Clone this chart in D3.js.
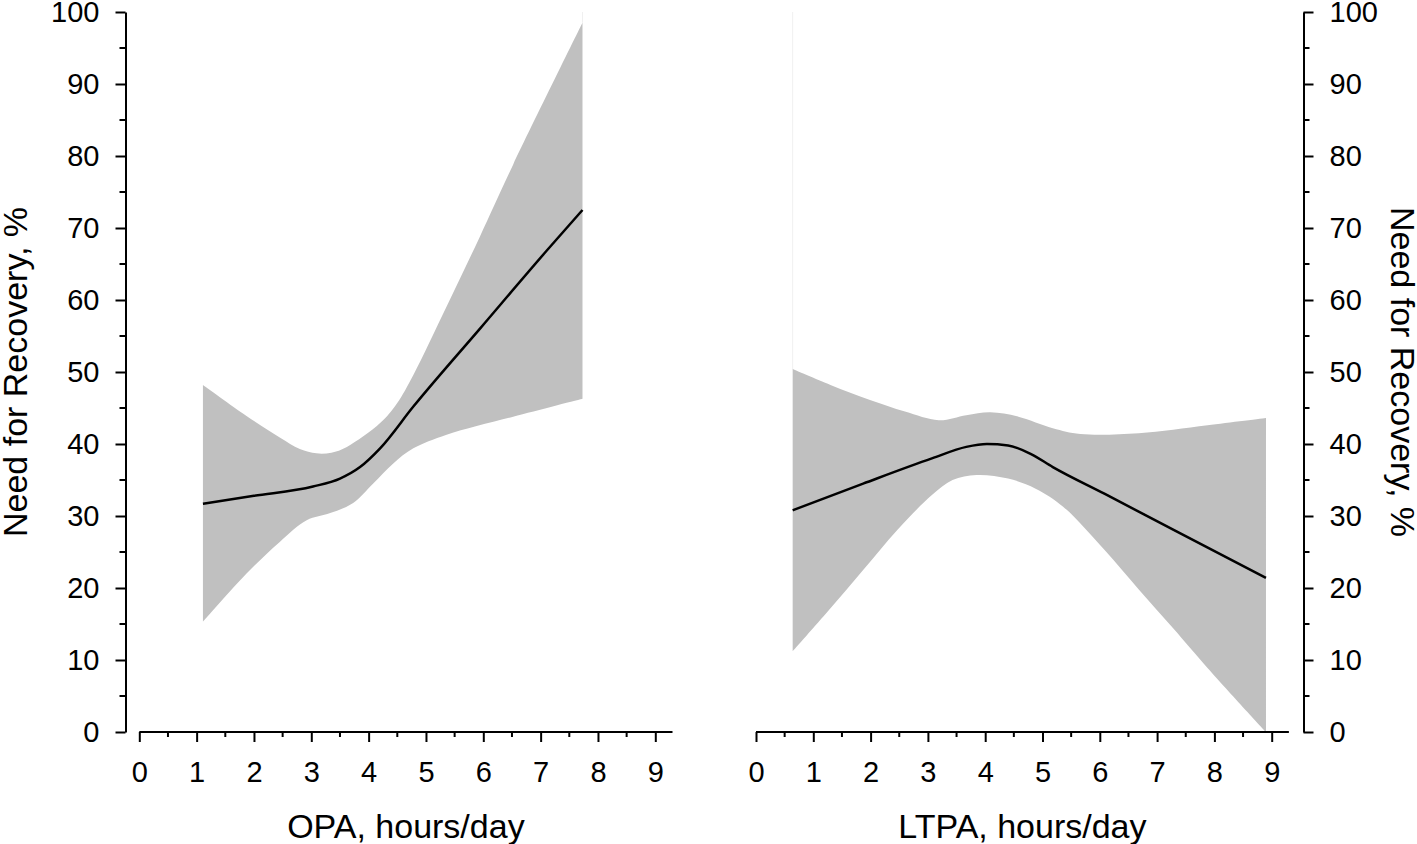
<!DOCTYPE html>
<html>
<head>
<meta charset="utf-8">
<script src="https://cdn.jsdelivr.net/npm/d3@7"></script>
<style>
  html, body { margin: 0; padding: 0; background: #fff; }
  svg { display: block; font-family: "Liberation Sans", Arial, sans-serif; }
</style>
</head>
<body>
<svg id="chart" width="1417" height="844"></svg>
<script>
// ---------- data ----------
const xTicks = [0, 1, 2, 3, 4, 5, 6, 7, 8, 9];
const yTicks = [0, 10, 20, 30, 40, 50, 60, 70, 80, 90, 100];
const leftXLabel = "OPA, hours/day";
const rightXLabel = "LTPA, hours/day";
const yLabel = "Need for Recovery, %";

// OPA panel: fitted curve and 95% band (x in hours/day, y in %)
const opaFit = [[1.11,31.7],[2.0,32.8],[3.03,34.1],[3.5,35.2],[3.85,36.8],[4.2,39.4],[4.78,45.2],[5.95,56.1],[7.1,66.8],[7.73,72.5]];
const opaUpper = [[1.11,48.2],[1.87,43.9],[2.45,40.9],[2.8,39.3],[3.09,38.7],[3.35,38.8],[3.62,39.6],[4.2,42.9],[4.49,45.6],[4.78,49.6],[5.36,59.1],[5.94,68.8],[6.52,78.8],[7.73,98.5]];
const opaLower = [[1.11,15.3],[1.87,22.0],[2.45,26.4],[2.92,29.4],[3.33,30.4],[3.73,31.8],[4.08,34.5],[4.43,37.3],[4.78,39.4],[5.36,41.3],[6.52,43.8],[7.73,46.3]];

// LTPA panel
const ltpaFit = [[0.64,30.8],[1.87,34.5],[3.07,38.0],[3.67,39.6],[4.03,40.0],[4.4,39.8],[4.8,38.6],[5.18,36.8],[6.08,33.1],[7.28,28.1],[8.9,21.4]];
const ltpaUpper = [[0.64,50.4],[1.3,48.2],[1.99,46.1],[2.6,44.5],[3.19,43.3],[3.67,44.0],[4.09,44.4],[4.58,43.8],[5.18,42.2],[5.66,41.4],[6.68,41.5],[7.88,42.6],[8.9,43.6]];
const ltpaLower = [[0.64,11.2],[1.27,16.9],[1.87,22.5],[2.47,28.1],[3.07,32.9],[3.43,35.0],[3.85,35.7],[4.40,35.2],[4.88,33.8],[5.36,31.3],[6.08,25.3],[6.68,19.8],[7.28,14.4],[7.88,8.9],[8.9,0.0]];

// ---------- layout ----------
const svg = d3.select("#chart");
const FONT_TICK = 29, FONT_TITLE = 34;
const y = d3.scaleLinear().domain([0, 100]).range([732, 12]);
const xL = d3.scaleLinear().domain([0, 9]).range([139.3, 655.3]);
const xR = d3.scaleLinear().domain([0, 9]).range([756, 1271.7]);
const yAxisLeftX = 125.5, yAxisRightX = 1303.5;
const axisEndX = 9.3;

function drawPanel(x, fit, upper, lower) {
  const g = svg.append("g");
  const bandLine = d3.line().x(d => x(d[0])).y(d => y(d[1])).curve(d3.curveCatmullRom.alpha(0.5));
  const fitLine = d3.line().x(d => x(d[0])).y(d => y(d[1])).curve(d3.curveMonotoneX);
  const up = bandLine(upper);
  const lo = bandLine(lower.slice().reverse()).replace(/^M/, "L");
  g.append("path").attr("d", up + lo + "Z").attr("fill", "#c0c0c0").attr("stroke", "none");
  g.append("path").attr("d", fitLine(fit)).attr("fill", "none").attr("stroke", "#000").attr("stroke-width", 2.5);

  // x axis
  const minor = d3.range(0, 9.01, 0.5).filter(v => v % 1 !== 0);
  g.append("line").attr("x1", x(0)).attr("x2", x(axisEndX)).attr("y1", y(0)).attr("y2", y(0))
    .attr("stroke", "#000").attr("stroke-width", 2);
  const ax = g.append("g").attr("transform", `translate(0,${y(0)})`)
    .call(d3.axisBottom(x).tickValues(xTicks).tickSize(10).tickPadding(19).tickFormat(d3.format("d")));
  ax.select(".domain").remove();
  ax.selectAll(".tick line").attr("stroke-width", 2);
  ax.selectAll("text").attr("font-size", FONT_TICK).attr("font-family", "Liberation Sans, Arial, sans-serif").attr("fill", "#000");
  g.append("g").selectAll("line").data(minor).join("line")
    .attr("x1", d => x(d)).attr("x2", d => x(d)).attr("y1", y(0)).attr("y2", y(0) + 5)
    .attr("stroke", "#000").attr("stroke-width", 2);
  return g;
}

function drawYAxis(xPos, dir) {
  const axisFn = dir < 0 ? d3.axisLeft(y) : d3.axisRight(y);
  const g = svg.append("g").attr("transform", `translate(${xPos},0)`)
    .call(axisFn.tickValues(yTicks).tickSize(10).tickSizeOuter(0).tickPadding(16));
  g.select(".domain").attr("stroke-width", 2);
  g.selectAll(".tick line").attr("stroke-width", 2);
  g.selectAll("text").attr("font-size", FONT_TICK).attr("font-family", "Liberation Sans, Arial, sans-serif").attr("fill", "#000");
  const minor = d3.range(5, 100, 10);
  g.append("g").selectAll("line").data(minor).join("line")
    .attr("x1", 0).attr("x2", dir * 6).attr("y1", d => y(d)).attr("y2", d => y(d))
    .attr("stroke", "#000").attr("stroke-width", 2);
}

// faint vertical artefacts at band edges
svg.append("line").attr("x1", xR(ltpaUpper[0][0])).attr("x2", xR(ltpaUpper[0][0]))
  .attr("y1", y(100)).attr("y2", y(ltpaUpper[0][1])).attr("stroke", "#f0f0f0").attr("stroke-width", 1);
svg.append("line").attr("x1", xL(opaUpper[opaUpper.length-1][0])).attr("x2", xL(opaUpper[opaUpper.length-1][0]))
  .attr("y1", y(100)).attr("y2", y(opaUpper[opaUpper.length-1][1])).attr("stroke", "#f0f0f0").attr("stroke-width", 1);

drawPanel(xL, opaFit, opaUpper, opaLower);
drawPanel(xR, ltpaFit, ltpaUpper, ltpaLower);
drawYAxis(yAxisLeftX, -1);
drawYAxis(yAxisRightX, 1);

// titles
svg.append("text").attr("x", (xL(0) + xL(axisEndX)) / 2).attr("y", 838)
  .attr("text-anchor", "middle").attr("font-size", FONT_TITLE).text(leftXLabel);
svg.append("text").attr("x", (xR(0) + xR(axisEndX)) / 2).attr("y", 838)
  .attr("text-anchor", "middle").attr("font-size", FONT_TITLE).text(rightXLabel);
svg.append("text").attr("transform", "translate(27,372) rotate(-90)")
  .attr("text-anchor", "middle").attr("font-size", FONT_TITLE).text(yLabel);
svg.append("text").attr("transform", "translate(1391,372) rotate(90)")
  .attr("text-anchor", "middle").attr("font-size", FONT_TITLE).text(yLabel);
</script>
</body>
</html>
